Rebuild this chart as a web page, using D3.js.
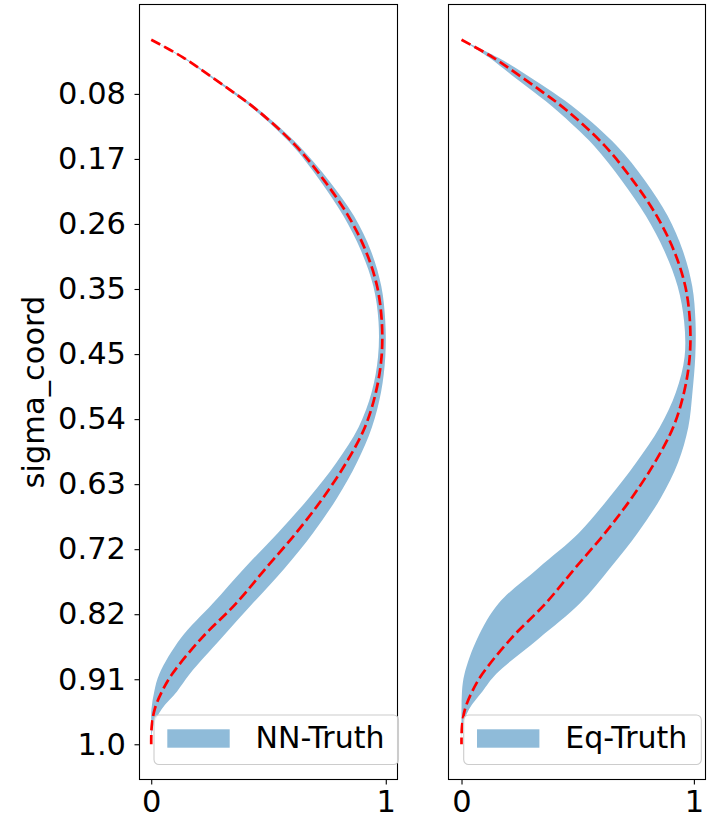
<!DOCTYPE html>
<html>
<head>
<meta charset="utf-8">
<script src="https://cdn.jsdelivr.net/npm/d3@7"></script>
<style>
  body { margin: 0; background: #fff; }
  text { font-family: "DejaVu Sans", sans-serif; }
</style>
</head>
<body>
<svg id="chart" width="715" height="816"></svg>
<script>
// Vertical coordinate (sigma levels, 0 = top, 1 = bottom)
const sigma = [0, 0.025, 0.05, 0.075, 0.1, 0.15, 0.2, 0.25, 0.3, 0.35, 0.4, 0.45, 0.5,
               0.55, 0.6, 0.65, 0.7, 0.75, 0.8, 0.85, 0.9, 0.925, 0.95, 0.975, 1.0];

// Reference profile (red dashed line)
const truth = [0, 0.135, 0.245, 0.352, 0.452, 0.615, 0.738, 0.840, 0.915, 0.963, 0.983, 0.982, 0.958,
               0.911, 0.832, 0.733, 0.618, 0.489, 0.362, 0.213, 0.090, 0.046, 0.015, 0.002, 0];

// NN-Truth spread (shaded band)
const nnLower = [0, 0.131, 0.239, 0.344, 0.442, 0.602, 0.720, 0.819, 0.895, 0.947, 0.969, 0.967, 0.940,
                 0.884, 0.790, 0.673, 0.540, 0.397, 0.263, 0.125, 0.035, 0.013, 0.001, 0, 0];
const nnUpper = [0, 0.139, 0.251, 0.360, 0.462, 0.629, 0.758, 0.864, 0.937, 0.981, 0.998, 0.998, 0.980,
                 0.941, 0.877, 0.793, 0.690, 0.569, 0.433, 0.298, 0.165, 0.110, 0.045, 0.008, 0];

// Eq-Truth spread (shaded band)
const eqLower = [0, 0.117, 0.215, 0.314, 0.409, 0.569, 0.690, 0.793, 0.873, 0.930, 0.958, 0.960, 0.923,
                 0.853, 0.752, 0.635, 0.505, 0.330, 0.160, 0.068, 0.013, 0.002, 0, 0, 0];
const eqUpper = [0, 0.155, 0.280, 0.395, 0.499, 0.667, 0.790, 0.887, 0.953, 0.993, 1.007, 1.006, 0.994,
                 0.976, 0.932, 0.858, 0.758, 0.639, 0.510, 0.333, 0.150, 0.090, 0.033, 0.005, 0];

// Axis ticks
const yTickValues = [0.0769, 0.1692, 0.2615, 0.3538, 0.4462, 0.5385, 0.6308, 0.7231, 0.8154, 0.9077, 1.0];
const yTickLabels = ["0.08", "0.17", "0.26", "0.35", "0.45", "0.54", "0.63", "0.72", "0.82", "0.91", "1.0"];
const xTickValues = [0, 1];
const xTickLabels = ["0", "1"];
const seriesNames = ["NN-Truth", "Eq-Truth"];
const yLabel = "sigma_coord";

const FONT = 30.5;
const LEGEND_FONT = 30;
const BAND = "#8fbbd9";
const svg = d3.select("#chart");

const plotTop = 4.5, plotBottom = 779.5;
const y = d3.scaleLinear().domain([-0.05, 1.05]).range([plotTop, plotBottom]);

const panels = [
  { name: seriesNames[0], lower: nnLower, upper: nnUpper, left: 139.5, right: 397.5,
    xDomain: [-0.05, 1.05], showY: true, legendX: 154 },
  { name: seriesNames[1], lower: eqLower, upper: eqUpper, left: 448.5, right: 705.5,
    xDomain: [-0.056, 1.05], showY: false, legendX: 463.7 }
];

panels.forEach((p, i) => {
  const x = d3.scaleLinear().domain(p.xDomain).range([p.left, p.right]);
  const rows = sigma.map((s, k) => ({ s, lo: p.lower[k], hi: p.upper[k], t: truth[k] }));

  const clipId = "clip" + i;
  svg.append("clipPath").attr("id", clipId)
    .append("rect").attr("x", p.left).attr("y", plotTop)
    .attr("width", p.right - p.left).attr("height", plotBottom - plotTop);

  const g = svg.append("g").attr("clip-path", `url(#${clipId})`);

  const area = d3.area()
    .y(d => y(d.s))
    .x0(d => x(d.lo))
    .x1(d => x(d.hi))
    .curve(d3.curveCatmullRom.alpha(0.5));
  g.append("path").datum(rows).attr("d", area).attr("fill", BAND).attr("stroke", "none");

  const line = d3.line()
    .y(d => y(d.s))
    .x(d => x(d.t))
    .curve(d3.curveCatmullRom.alpha(0.5));
  g.append("path").datum(rows).attr("d", line)
    .attr("fill", "none").attr("stroke", "#ff0000")
    .attr("stroke-width", 2.7).attr("stroke-dasharray", "10.3,4.4");

  // x axis
  const xAxis = d3.axisBottom(x).tickValues(xTickValues)
    .tickFormat((d, k) => xTickLabels[k]).tickSize(5).tickPadding(5.5).tickSizeOuter(0);
  const gx = svg.append("g").attr("transform", `translate(0,${plotBottom})`).call(xAxis);
  gx.select(".domain").remove();
  gx.selectAll(".tick line").attr("stroke", "#000").attr("stroke-width", 1.1);
  gx.selectAll(".tick text").attr("font-size", FONT).attr("fill", "#000")
    .style("font-family", '"DejaVu Sans", sans-serif');

  if (p.showY) {
    const yAxis = d3.axisLeft(y).tickValues(yTickValues)
      .tickFormat((d, k) => yTickLabels[k]).tickSize(5).tickPadding(8.5).tickSizeOuter(0);
    const gy = svg.append("g").attr("transform", `translate(${p.left},0)`).call(yAxis);
    gy.select(".domain").remove();
    gy.selectAll(".tick line").attr("stroke", "#000").attr("stroke-width", 1.1);
    gy.selectAll(".tick text").attr("font-size", FONT).attr("fill", "#000")
      .style("font-family", '"DejaVu Sans", sans-serif');

    svg.append("text")
      .attr("transform", `translate(43.5,${(plotTop + plotBottom) / 2}) rotate(-90)`)
      .attr("text-anchor", "middle")
      .attr("font-size", FONT).attr("fill", "#000")
      .text(yLabel);
  }

  // frame
  svg.append("rect").attr("x", p.left).attr("y", plotTop)
    .attr("width", p.right - p.left).attr("height", plotBottom - plotTop)
    .attr("fill", "none").attr("stroke", "#000").attr("stroke-width", 1.1);

  // legend
  const lg = svg.append("g");
  const box = lg.append("rect")
    .attr("x", p.legendX).attr("y", 715).attr("height", 49.5)
    .attr("rx", 5).attr("ry", 5)
    .attr("fill", "#fff").attr("fill-opacity", 0.8)
    .attr("stroke", "#cccccc").attr("stroke-width", 1.1);
  lg.append("rect").attr("x", p.legendX + 13.3).attr("y", 729.3)
    .attr("width", 62.4).attr("height", 18.4).attr("fill", BAND);
  const lt = lg.append("text").attr("x", p.legendX + 101.5).attr("y", 748.3)
    .attr("font-size", LEGEND_FONT).attr("fill", "#000").text(p.name);
  const tw = lt.node().getComputedTextLength();
  box.attr("width", 101.5 + tw + 14);
});
</script>
</body>
</html>
